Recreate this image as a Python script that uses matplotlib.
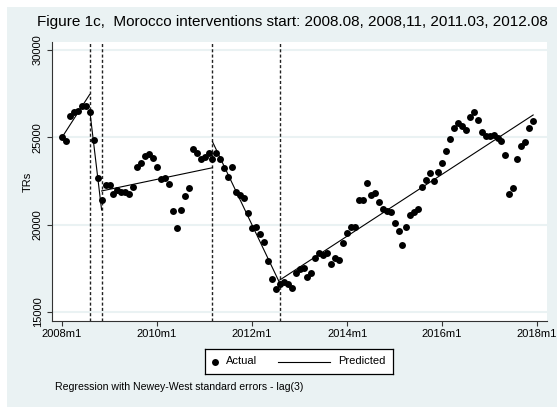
import matplotlib
matplotlib.use("Agg")
import matplotlib.pyplot as plt
from matplotlib.patches import Rectangle
import numpy as np

matplotlib.rcParams['font.family'] = ['Liberation Sans', 'DejaVu Sans']

BG = '#eaf2f3'

# monthly TRs, 2008m1 .. 2017m12
trs = [
    25000, 24790, 26220, 26470, 26520, 26790, 26790, 26470, 24850, 22650,
    21410, 22250, 22250, 21740, 21980, 21890, 21890, 21750, 22140, 23320,
    23550, 23930, 24040, 23800, 23280, 22600, 22690, 22310, 20800, 19790,
    20840, 21640, 22080, 24310, 24120, 23740, 23890, 24100, 23740, 24120,
    23740, 23260, 22750, 23320, 21890, 21700, 21540, 20680, 19825, 19880,
    19450, 19020, 17920, 16890, 16320, 16590, 16740, 16590, 16390, 17250,
    17440, 17500, 17020, 17210, 18070, 18400, 18260, 18360, 17750, 18070,
    17980, 18930, 19500, 19850, 19850, 21410, 21410, 22400, 21700, 21800,
    21280, 20880, 20800, 20740, 20080, 19640, 18840, 19880, 20550, 20740,
    20910, 22140, 22560, 22980, 22520, 23030, 23510, 24230, 24890, 25550,
    25800, 25660, 25420, 26140, 26430, 25990, 25320, 25070, 25070, 25130,
    24940, 24790, 23990, 21750, 22080, 23740, 24500, 24750, 25510, 25930,
]
months = np.arange(len(trs))  # months since 2008m1

# intervention dates (months since 2008m1): 2008m8, 2008m11, 2011m3, 2012m8
breaks = [7, 10, 38, 55]

# fitted segments of the interrupted time series
seg_start = [0, 7, 10, 38, 55]
seg_end = [7, 10, 38, 55, 119]
seg_y0 = [25000, 26550, 21930, 24750, 16830]
seg_y1 = [27460, 20840, 23260, 16650, 26280]

xtick_pos = [0, 24, 48, 72, 96, 120]
xtick_lab = ['2008m1', '2010m1', '2012m1', '2014m1', '2016m1', '2018m1']
ytick_pos = [15000, 20000, 25000, 30000]

W, H = 557, 407
fig = plt.figure(figsize=(W / 100, H / 100), dpi=100)
fig.patch.set_facecolor('white')
fig.patches.append(Rectangle((7 / W, 0), 1 - 7 / W, 1 - 7 / H, transform=fig.transFigure,
                             facecolor=BG, edgecolor='none', zorder=-10))

ax = fig.add_axes([52 / W, 86 / H, 495 / W, 279 / H])
ax.set_facecolor('white')

for v in ytick_pos:
    ax.axhline(v, color=BG, lw=1.5, zorder=1)

for b in breaks:
    ax.axvline(b, color='#222222', lw=1.0, ls=(0, (2.2, 1.6)), zorder=2)

ax.plot(months, trs, 'o', color='black', ms=5.0, mec='none', zorder=4)
for s, e, y0, y1 in zip(seg_start, seg_end, seg_y0, seg_y1):
    ax.plot([s, e], [y0, y1], color='black', lw=0.8, zorder=3)

ax.set_xlim(-2.53, 122.5)
ax.set_ylim(14485, 30458)
ax.set_xticks(xtick_pos)
ax.set_xticklabels(xtick_lab)
ax.set_yticks(ytick_pos)
ax.set_yticklabels([str(v) for v in ytick_pos], rotation=90, va='center')
ax.tick_params(axis='both', direction='out', length=3.6, width=0.8, labelsize=8, color='#333333')
ax.tick_params(axis='x', pad=2.5)
ax.tick_params(axis='y', pad=3)
ax.set_ylabel('TRs', fontsize=8, labelpad=0)

for side in ['top', 'right']:
    ax.spines[side].set_visible(False)
for side in ['left', 'bottom']:
    ax.spines[side].set_linewidth(0.8)
    ax.spines[side].set_color('#333333')

fig.text(292 / W, 1 - 22 / H,
         'Figure 1c,  Morocco interventions start: 2008.08, 2008,11, 2011.03, 2012.08',
         ha='center', va='center', fontsize=11)

# legend box drawn in its own small axes (pixel units)
lg = fig.add_axes([205 / W, 33 / H, 188 / W, 25 / H])
lg.set_xlim(0, 188)
lg.set_ylim(0, 25)
lg.set_facecolor('white')
lg.set_xticks([])
lg.set_yticks([])
for sp in lg.spines.values():
    sp.set_linewidth(0.9)
    sp.set_color('black')
lg.plot([10], [12.5], 'o', color='black', ms=5.0, mec='none')
lg.text(21, 12.5, 'Actual', va='center', ha='left', fontsize=8)
lg.plot([73, 125], [12.5, 12.5], color='black', lw=0.8)
lg.text(133, 12.5, 'Predicted', va='center', ha='left', fontsize=8)

fig.text(55 / W, 1 - 387 / H, 'Regression with Newey-West standard errors - lag(3)',
         ha='left', va='center', fontsize=7.6)

fig.savefig('out.png', dpi=100)
